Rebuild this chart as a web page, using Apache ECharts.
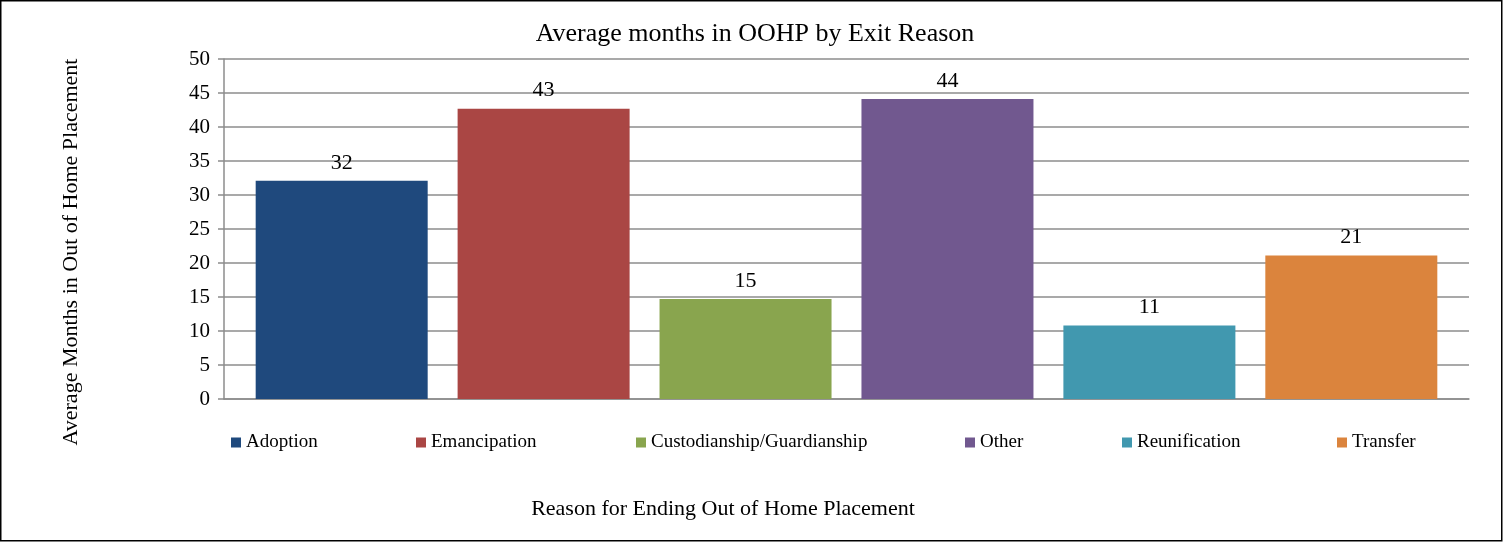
<!DOCTYPE html>
<html>
<head>
<meta charset="utf-8">
<script src="https://cdn.jsdelivr.net/npm/echarts@6/dist/echarts.min.js"></script>
<style>
  html, body { margin: 0; padding: 0; background: #fff; }
  #chart { width: 1503px; height: 542px; }
</style>
</head>
<body>
<div id="chart"></div>
<script>
const reasons = ['Adoption', 'Emancipation', 'Custodianship/Guardianship', 'Other', 'Reunification', 'Transfer']
const avgMonths = [32.1, 42.7, 14.7, 44.1, 10.8, 21.1]
const barColors = ['#1f497d', '#aa4644', '#89a54e', '#71588f', '#4198af', '#db843d']
const yTicks = [0, 50, 5] // min, max, step

// legend x positions
const legendLeft = [231, 416, 636, 965, 1122, 1337]

const font = '"Liberation Serif", "Times New Roman", serif'

const chart = echarts.init(document.getElementById('chart'))

chart.setOption({
  animation: false,
  textStyle: { fontFamily: font, color: '#000' },
  title: {
    text: 'Average months in OOHP by Exit Reason',
    left: 750,
    top: 16,
    textAlign: 'center',
    textStyle: { fontFamily: font, fontWeight: 'normal', fontSize: 26, color: '#000' }
  },
  legend: reasons.map((r, i) => ({
    data: [r],
    left: legendLeft[i],
    top: 433,
    itemWidth: 10,
    itemHeight: 10,
    itemGap: 0,
    padding: 0,
    icon: 'rect',
    selectedMode: false,
    textStyle: { fontFamily: font, fontSize: 19, color: '#000' }
  })),
  grid: {
    left: 224,
    right: 34,
    top: 59,
    bottom: 143
  },
  xAxis: {
    type: 'category',
    data: [''],
    axisTick: { show: false },
    axisLabel: { show: false },
    axisLine: { lineStyle: { color: '#8c8c8c', width: 1.5 } }
  },
  yAxis: {
    type: 'value',
    min: yTicks[0],
    max: yTicks[1],
    interval: yTicks[2],
    axisLine: { show: true, lineStyle: { color: '#8c8c8c', width: 1.5 } },
    axisTick: { show: true, length: 6, lineStyle: { color: '#8c8c8c', width: 1.5 } },
    axisLabel: { fontFamily: font, fontSize: 21, color: '#000', margin: 14 },
    splitLine: { lineStyle: { color: '#8c8c8c', width: 1.5 } }
  },
  graphic: [
    {
      type: 'rect',
      shape: { x: 0.75, y: 0.75, width: 1501, height: 540 },
      style: { fill: 'none', stroke: '#000', lineWidth: 1.5 },
      silent: true
    },
    {
      type: 'text',
      x: 723,
      y: 509,
      style: {
        text: 'Reason for Ending Out of Home Placement',
        font: '22px ' + font,
        fill: '#000',
        textAlign: 'center',
        textVerticalAlign: 'middle'
      }
    },
    {
      type: 'text',
      x: 71,
      y: 252,
      rotation: Math.PI / 2,
      style: {
        text: 'Average Months in Out of Home Placement',
        font: '22px ' + font,
        fill: '#000',
        textAlign: 'center',
        textVerticalAlign: 'middle'
      }
    }
  ],
  series: reasons.map((r, i) => ({
    name: r,
    type: 'bar',
    data: [avgMonths[i]],
    barWidth: 172,
    barGap: '17.4%',
    itemStyle: { color: barColors[i] },
    label: {
      show: true,
      position: 'top',
      distance: 7,
      fontFamily: font,
      fontSize: 22,
      color: '#000',
      formatter: p => Math.round(p.value)
    }
  }))
})
</script>
</body>
</html>
